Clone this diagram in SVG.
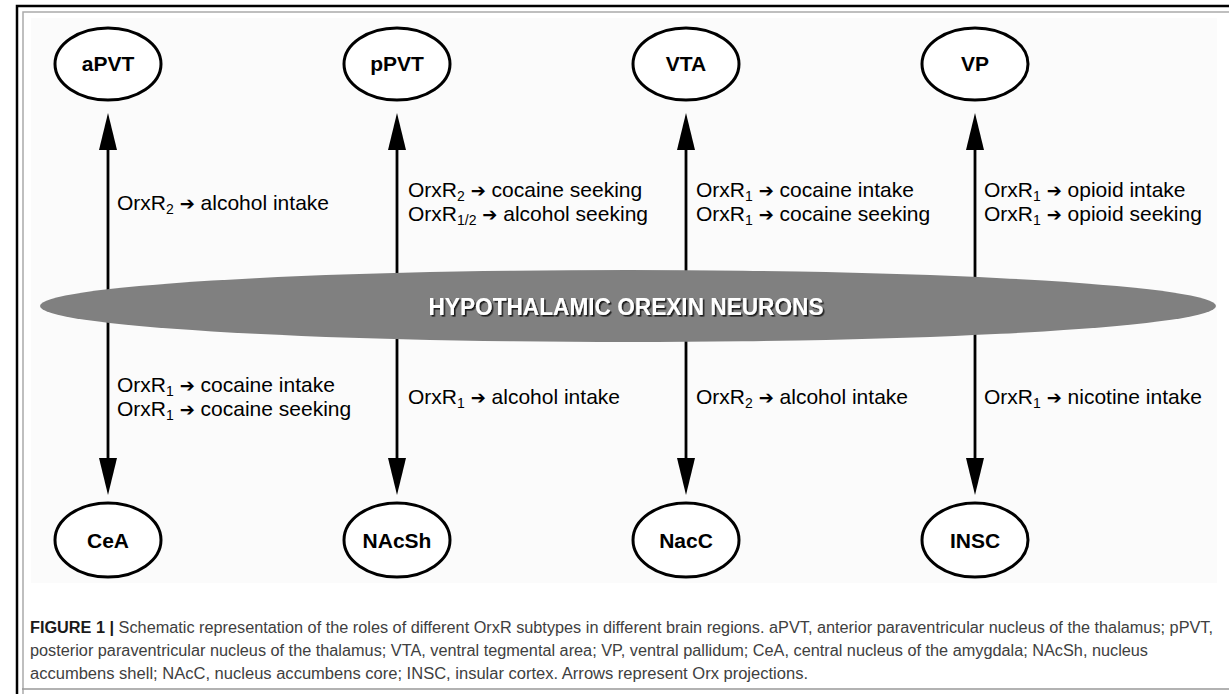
<svg xmlns="http://www.w3.org/2000/svg" width="1229" height="694" viewBox="0 0 1229 694">
<defs>
<marker id="ah" viewBox="0 0 37 18" refX="17" refY="9" markerWidth="37" markerHeight="18" markerUnits="userSpaceOnUse" orient="auto-start-reverse">
<path d="M0,0 L37,9 L0,18 Z" fill="#000"/>
</marker>
<filter id="sh" x="-5%" y="-30%" width="110%" height="160%">
<feDropShadow dx="1.6" dy="1.6" stdDeviation="0.5" flood-color="#1e1e1e" flood-opacity="1"/>
</filter>
</defs>
<style>
.node ellipse{fill:#fff;stroke:#000;stroke-width:3}
.node text{font-family:"Liberation Sans",Arial,sans-serif;font-weight:bold;font-size:21px;text-anchor:middle;fill:#000}
.lbl{font-family:"Liberation Sans","DejaVu Sans",sans-serif;font-size:21px;fill:#000}
.sub{font-size:14px}
.arr{font-family:"DejaVu Sans",sans-serif;font-size:18px}
.conn line{stroke:#000;stroke-width:2.8}
.cap{font-family:"Liberation Sans",Arial,sans-serif;font-size:16px;fill:#404040}
</style>
<rect x="0" y="0" width="1229" height="694" fill="#fff"/>
<path d="M17,694 V6 H1229" fill="none" stroke="#000" stroke-width="2.5"/>
<path d="M23,694 V12 H1229" fill="none" stroke="#aaa" stroke-width="1.5"/>
<line x1="22" y1="689" x2="1229" y2="689" stroke="#999" stroke-width="1.5"/>
<rect x="31" y="18" width="1186" height="565" fill="#fbfbfb"/>

<g id="connectors" class="conn">
<line x1="108" y1="133" x2="108" y2="475" marker-start="url(#ah)" marker-end="url(#ah)"/>
<line x1="397" y1="133" x2="397" y2="475" marker-start="url(#ah)" marker-end="url(#ah)"/>
<line x1="686" y1="133" x2="686" y2="475" marker-start="url(#ah)" marker-end="url(#ah)"/>
<line x1="975" y1="133" x2="975" y2="475" marker-start="url(#ah)" marker-end="url(#ah)"/>
</g>

<g id="hypothalamus">
<ellipse cx="628" cy="306" rx="588" ry="36" fill="#808080"/>
<text x="626" y="315" font-family="Liberation Sans,Arial,sans-serif" font-weight="bold" font-size="24" fill="#fff" text-anchor="middle" textLength="395" lengthAdjust="spacingAndGlyphs" filter="url(#sh)">HYPOTHALAMIC OREXIN NEURONS</text>
</g>

<g id="aPVT" class="node"><ellipse cx="108" cy="64" rx="53" ry="36"/><text x="108" y="71">aPVT</text></g>
<g id="pPVT" class="node"><ellipse cx="397" cy="64" rx="53" ry="36"/><text x="397" y="71">pPVT</text></g>
<g id="VTA" class="node"><ellipse cx="686" cy="64" rx="53" ry="36"/><text x="686" y="71">VTA</text></g>
<g id="VP" class="node"><ellipse cx="975" cy="64" rx="53" ry="36"/><text x="975" y="71">VP</text></g>
<g id="CeA" class="node"><ellipse cx="108" cy="540" rx="53" ry="37"/><text x="108" y="548">CeA</text></g>
<g id="NAcSh" class="node"><ellipse cx="397" cy="540" rx="53" ry="37"/><text x="397" y="548">NAcSh</text></g>
<g id="NacC" class="node"><ellipse cx="686" cy="540" rx="53" ry="37"/><text x="686" y="548">NacC</text></g>
<g id="INSC" class="node"><ellipse cx="975" cy="540" rx="53" ry="37"/><text x="975" y="548">INSC</text></g>

<g id="labels">
<text class="lbl" x="117" y="210">OrxR<tspan class="sub" dy="4">2</tspan><tspan dy="-4"> </tspan><tspan class="arr">➔</tspan> alcohol intake</text>
<text class="lbl" x="408" y="197">OrxR<tspan class="sub" dy="4">2</tspan><tspan dy="-4"> </tspan><tspan class="arr">➔</tspan> cocaine seeking</text>
<text class="lbl" x="408" y="221">OrxR<tspan class="sub" dy="4">1/2</tspan><tspan dy="-4"> </tspan><tspan class="arr">➔</tspan> alcohol seeking</text>
<text class="lbl" x="696" y="197">OrxR<tspan class="sub" dy="4">1</tspan><tspan dy="-4"> </tspan><tspan class="arr">➔</tspan> cocaine intake</text>
<text class="lbl" x="696" y="221">OrxR<tspan class="sub" dy="4">1</tspan><tspan dy="-4"> </tspan><tspan class="arr">➔</tspan> cocaine seeking</text>
<text class="lbl" x="984" y="197">OrxR<tspan class="sub" dy="4">1</tspan><tspan dy="-4"> </tspan><tspan class="arr">➔</tspan> opioid intake</text>
<text class="lbl" x="984" y="221">OrxR<tspan class="sub" dy="4">1</tspan><tspan dy="-4"> </tspan><tspan class="arr">➔</tspan> opioid seeking</text>
<text class="lbl" x="117" y="392">OrxR<tspan class="sub" dy="4">1</tspan><tspan dy="-4"> </tspan><tspan class="arr">➔</tspan> cocaine intake</text>
<text class="lbl" x="117" y="416">OrxR<tspan class="sub" dy="4">1</tspan><tspan dy="-4"> </tspan><tspan class="arr">➔</tspan> cocaine seeking</text>
<text class="lbl" x="408" y="404">OrxR<tspan class="sub" dy="4">1</tspan><tspan dy="-4"> </tspan><tspan class="arr">➔</tspan> alcohol intake</text>
<text class="lbl" x="696" y="404">OrxR<tspan class="sub" dy="4">2</tspan><tspan dy="-4"> </tspan><tspan class="arr">➔</tspan> alcohol intake</text>
<text class="lbl" x="984" y="404">OrxR<tspan class="sub" dy="4">1</tspan><tspan dy="-4"> </tspan><tspan class="arr">➔</tspan> nicotine intake</text>
</g>

<g id="caption">
<text class="cap" x="30" y="633" textLength="1183" lengthAdjust="spacingAndGlyphs"><tspan font-weight="bold" fill="#1a1a1a">FIGURE 1 |</tspan> Schematic representation of the roles of different OrxR subtypes in different brain regions. aPVT, anterior paraventricular nucleus of the thalamus; pPVT,</text>
<text class="cap" x="30" y="656" textLength="1118" lengthAdjust="spacingAndGlyphs">posterior paraventricular nucleus of the thalamus; VTA, ventral tegmental area; VP, ventral pallidum; CeA, central nucleus of the amygdala; NAcSh, nucleus</text>
<text class="cap" x="30" y="679" textLength="778" lengthAdjust="spacingAndGlyphs">accumbens shell; NAcC, nucleus accumbens core; INSC, insular cortex. Arrows represent Orx projections.</text>
</g>
</svg>
